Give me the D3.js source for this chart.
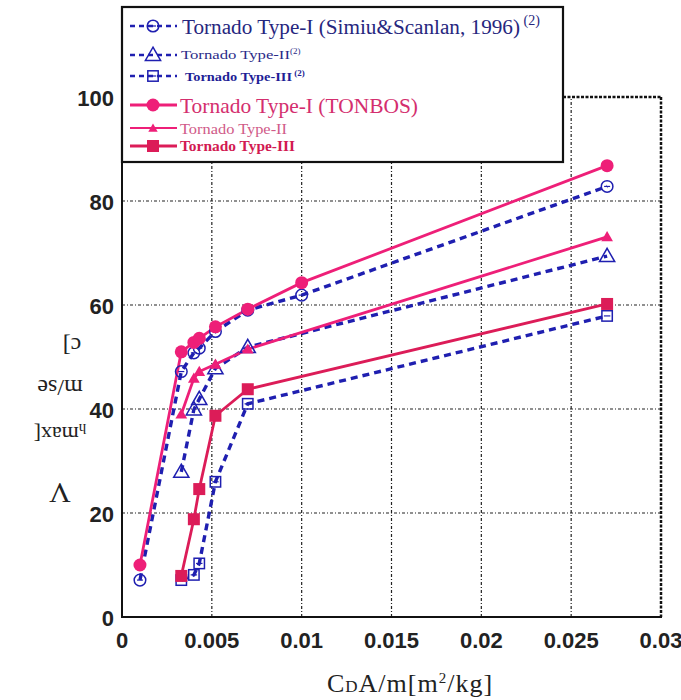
<!DOCTYPE html>
<html><head><meta charset="utf-8">
<script src="https://cdn.jsdelivr.net/npm/d3@7"></script>
<style>body{margin:0;background:#fff}svg{display:block}</style>
</head><body>
<script>
// ---- data ----
const xTicks = [0, 0.005, 0.01, 0.015, 0.02, 0.025, 0.03];
const xTickLabels = ["0", "0.005", "0.01", "0.015", "0.02", "0.025", "0.03"];
const yTicks = [0, 20, 40, 60, 80, 100];
const xType1 = [0.001, 0.0033, 0.004, 0.0043, 0.0052, 0.007, 0.01, 0.027];
const vTonbos1 = [10, 51, 52.8, 53.6, 55.8, 59.2, 64.3, 86.8];
const vSimiu1 = [7.1, 47.2, 50.8, 51.7, 54.9, 59.0, 61.9, 82.8];
const xType23 = [0.0033, 0.004, 0.0043, 0.0052, 0.007, 0.027];
const vTonbos2 = [39.0, 45.9, 47.2, 48.6, 51.5, 73.1];
const vSimiu2 = [27.9, 39.9, 41.9, 47.8, 51.9, 69.4];
const vTonbos3 = [7.9, 18.8, 24.6, 38.7, 43.8, 60.2];
const vSimiu3 = [7.1, 8.1, 10.3, 26.0, 41.0, 57.9];
const legendLabels = ["Tornado Type-I (Simiu&Scanlan, 1996)", "Tornado Type-II", "Tornado Type-III",
                      "Tornado Type-I (TONBOS)", "Tornado Type-II", "Tornado Type-III"];
const legendSup = [" (2)", "(2)", " (2)", "", "", ""];

// ---- styles ----
const BLUE = "#1f1fb0", PINK = "#ee1f78", PINK3 = "#dc1c58";
const W = 681, H = 700;
const plot = {l: 122, r: 661, t: 97, b: 617};

const svg = d3.select("body").append("svg").attr("width", W).attr("height", H);
const x = d3.scaleLinear().domain([0, 0.03]).range([plot.l, plot.r]);
const y = d3.scaleLinear().domain([0, 100]).range([plot.b, plot.t]);

// gridlines
const grid = svg.append("g").attr("stroke", "#222").attr("stroke-width", 1.2).attr("stroke-dasharray", "3,2,1,2");
xTicks.slice(1, -1).forEach(v => grid.append("line").attr("x1", x(v)).attr("x2", x(v)).attr("y1", y(0)).attr("y2", y(100)));
yTicks.slice(1, -1).forEach(v => grid.append("line").attr("x1", x(0)).attr("x2", x(0.03)).attr("y1", y(v)).attr("y2", y(v)));

// frame
svg.append("line").attr("x1", x(0)).attr("x2", x(0.03)).attr("y1", y(100)).attr("y2", y(100))
  .attr("stroke", "#111").attr("stroke-width", 2.5).attr("stroke-dasharray", "3,1.5");
svg.append("line").attr("x1", x(0.03)).attr("x2", x(0.03)).attr("y1", y(100)).attr("y2", y(0))
  .attr("stroke", "#111").attr("stroke-width", 2.5).attr("stroke-dasharray", "3,1.5");
svg.append("line").attr("x1", x(0)).attr("x2", x(0)).attr("y1", y(100)).attr("y2", y(0) + 1)
  .attr("stroke", "#111").attr("stroke-width", 2);
svg.append("line").attr("x1", x(0) - 1).attr("x2", x(0.03) + 1).attr("y1", y(0)).attr("y2", y(0))
  .attr("stroke", "#111").attr("stroke-width", 2);

// tick labels
svg.append("g").selectAll("text").data(yTicks).join("text")
  .attr("x", 114).attr("y", d => y(d) + 9)
  .attr("text-anchor", "end").attr("font-family", "Liberation Sans, Arial, sans-serif")
  .attr("font-weight", "bold").attr("font-size", 22).attr("fill", "#222").text(d => d);
svg.append("g").selectAll("text").data(xTicks).join("text")
  .attr("x", d => x(d)).attr("y", 648)
  .attr("text-anchor", "middle").attr("font-family", "Liberation Sans Narrow, Liberation Sans, Arial, sans-serif")
  .attr("font-weight", "bold").attr("font-size", 22).attr("fill", "#222").text((d, i) => xTickLabels[i]);

// x axis title
const xt = svg.append("text").attr("x", 410).attr("y", 692).attr("text-anchor", "middle")
  .attr("font-family", "Liberation Serif, Times New Roman, serif").attr("font-size", 26)
  .attr("letter-spacing", 1).attr("fill", "#222");
xt.append("tspan").text("C");
xt.append("tspan").attr("font-size", 17).text("D");
xt.append("tspan").text("A/m[m");
xt.append("tspan").attr("font-size", 15).attr("dy", -9).text("2");
xt.append("tspan").attr("dy", 9).text("/kg]");

// y axis title (upside-down lines)
const yFont = "Liberation Serif, Times New Roman, serif";
function flip(cx, cy, build) {
  const t = svg.append("text").attr("transform", `translate(${cx},${cy}) rotate(180)`)
    .attr("text-anchor", "middle").attr("dominant-baseline", "middle")
    .attr("font-family", yFont).attr("fill", "#222");
  build(t);
}
flip(60, 490, t => t.attr("font-size", 30).text("V"));
flip(60, 432, t => {
  t.attr("font-size", 22);
  t.append("tspan").attr("font-size", 15).attr("dy", 5).text("h");
  t.append("tspan").attr("dy", -5).text("max[");
});
flip(60, 385, t => t.attr("font-size", 24).text("m/se"));
flip(72, 343, t => t.attr("font-size", 24).text("c]"));

// series
const series = [
  {xs: xType1, ys: vSimiu1, kind: "simiu", marker: "circle"},
  {xs: xType23, ys: vSimiu2, kind: "simiu", marker: "triangle"},
  {xs: xType23, ys: vSimiu3, kind: "simiu", marker: "square"},
  {xs: xType1, ys: vTonbos1, kind: "tonbos", marker: "circle"},
  {xs: xType23, ys: vTonbos2, kind: "tonbos", marker: "triangle"},
  {xs: xType23, ys: vTonbos3, kind: "tonbos", marker: "square"}
];
const line = d3.line().x(d => x(d[0])).y(d => y(d[1]));

function drawMarker(g, cx, cy, s, scale) {
  scale = scale || 1;
  const col = s.kind === "simiu" ? BLUE : (s.marker === "square" ? PINK3 : PINK);
  if (s.kind === "simiu") {
    if (s.marker === "circle") {
      g.append("circle").attr("cx", cx).attr("cy", cy).attr("r", 5.8 * scale)
        .attr("fill", "none").attr("stroke", col).attr("stroke-width", 1.5);
      g.append("line").attr("x1", cx - 3 * scale).attr("x2", cx + 3 * scale).attr("y1", cy).attr("y2", cy)
        .attr("stroke", col).attr("stroke-width", 1.2);
    } else if (s.marker === "triangle") {
      g.append("path").attr("transform", `translate(${cx},${cy + 1})`)
        .attr("d", d3.symbol(d3.symbolTriangle, 100 * scale * scale)())
        .attr("fill", "none").attr("stroke", col).attr("stroke-width", 1.5);
    } else {
      const h = 5.2 * scale;
      g.append("rect").attr("x", cx - h).attr("y", cy - h).attr("width", 2 * h).attr("height", 2 * h)
        .attr("fill", "none").attr("stroke", col).attr("stroke-width", 1.5);
      g.append("line").attr("x1", cx - h + 2).attr("x2", cx + h - 2).attr("y1", cy).attr("y2", cy)
        .attr("stroke", col).attr("stroke-width", 1.2);
    }
  } else {
    if (s.marker === "circle") {
      g.append("circle").attr("cx", cx).attr("cy", cy).attr("r", 6.5 * scale).attr("fill", col);
    } else if (s.marker === "triangle") {
      g.append("path").attr("transform", `translate(${cx},${cy + 1})`)
        .attr("d", d3.symbol(d3.symbolTriangle, 60 * scale * scale)()).attr("fill", col);
    } else {
      const h = 6 * scale;
      g.append("rect").attr("x", cx - h).attr("y", cy - h).attr("width", 2 * h).attr("height", 2 * h).attr("fill", col);
    }
  }
}

const lg = svg.append("g"), mg = svg.append("g");
series.forEach(s => {
  const pts = s.xs.map((v, i) => [v, s.ys[i]]);
  const col = s.kind === "simiu" ? BLUE : (s.marker === "square" ? PINK3 : PINK);
  lg.append("path").attr("d", line(pts)).attr("fill", "none").attr("stroke", col)
    .attr("stroke-width", s.kind === "simiu" ? 3.4 : 2.8)
    .attr("stroke-dasharray", s.kind === "simiu" ? "7,5" : null);
});
series.forEach(s => s.xs.forEach((v, i) => drawMarker(mg, x(v), y(s.ys[i]), s)));

// legend
const leg = svg.append("g");
leg.append("rect").attr("x", 122).attr("y", 7).attr("width", 441).attr("height", 155)
  .attr("fill", "#fff").attr("stroke", "#111").attr("stroke-width", 2.2);
const legRows = [
  {base: 34, sy: 26, fs: 20, bold: false, w: 338, col: "#26267e", tx: 182},
  {base: 59, sy: 55, fs: 13, bold: false, w: 109, col: "#2a2a88", tx: 181},
  {base: 81, sy: 76, fs: 13, bold: true, w: 107, col: "#1e1e96", tx: 185},
  {base: 113, sy: 105, fs: 22, bold: false, w: 238, col: "#d42e6e", tx: 180},
  {base: 134, sy: 128, fs: 15, bold: false, w: 107, col: "#d05a88", tx: 180},
  {base: 151, sy: 146, fs: 14, bold: true, w: 115, col: "#d21a52", tx: 180}
];
legRows.forEach((r, i) => {
  const s = series[i];
  const col = s.kind === "simiu" ? BLUE : (s.marker === "square" ? PINK3 : PINK);
  leg.append("line").attr("x1", 130).attr("x2", 177).attr("y1", r.sy).attr("y2", r.sy)
    .attr("stroke", col).attr("stroke-width", s.kind === "simiu" ? 2.5 : (i === 4 ? 2 : 3))
    .attr("stroke-dasharray", s.kind === "simiu" ? "5,4" : null);
  drawMarker(leg, 153, r.sy, s, s.kind === "simiu" ? 1 : (i === 4 ? 0.8 : 1));
  const t = leg.append("text").attr("x", r.tx).attr("y", r.base)
    .attr("font-family", "Liberation Serif, Times New Roman, serif").attr("font-size", r.fs)
    .attr("font-weight", r.bold ? "bold" : "normal").attr("fill", r.col);
  t.append("tspan").attr("textLength", r.w).attr("lengthAdjust", "spacingAndGlyphs").text(legendLabels[i]);
  if (legendSup[i]) t.append("tspan").attr("font-size", i === 0 ? 14 : 9).attr("dy", i === 0 ? -9 : -5).text(legendSup[i]);
});
</script>
</body></html>
